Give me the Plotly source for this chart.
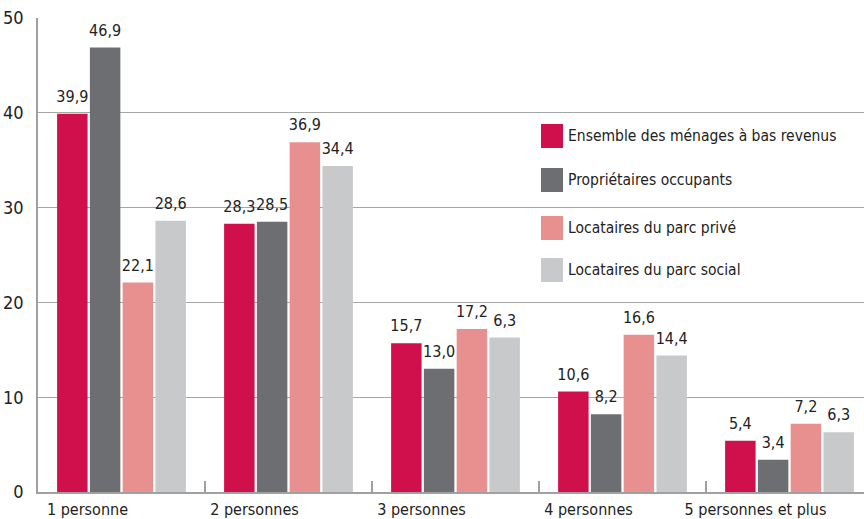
import plotly.graph_objects as go

categories = ["1 personne", "2 personnes", "3 personnes", "4 personnes", "5 personnes et plus"]
series_names = ["Ensemble des ménages à bas revenus", "Propriétaires occupants",
                "Locataires du parc privé", "Locataires du parc social"]
ensemble = [39.9, 28.3, 15.7, 10.6, 5.4]
proprietaires = [46.9, 28.5, 13.0, 8.2, 3.4]
prive = [22.1, 36.9, 17.2, 16.6, 7.2]
social = [28.6, 34.4, 16.3, 14.4, 6.3]
labels_ensemble = ["39,9", "28,3", "15,7", "10,6", "5,4"]
labels_proprietaires = ["46,9", "28,5", "13,0", "8,2", "3,4"]
labels_prive = ["22,1", "36,9", "17,2", "16,6", "7,2"]
labels_social = ["28,6", "34,4", "6,3", "14,4", "6,3"]
y_ticks = [0, 10, 20, 30, 40, 50]

colors = ["#D0104C", "#6D6E71", "#E8908F", "#C8C9CB"]
FONT = "Liberation Sans Narrow, Arial Narrow, DejaVu Sans Condensed, sans-serif"
TXT = "#222222"

series = [ensemble, proprietaires, prive, social]
labels = [labels_ensemble, labels_proprietaires, labels_prive, labels_social]

fig = go.Figure()
for i, (name, vals, lab, col) in enumerate(zip(series_names, series, labels, colors)):
    fig.add_trace(go.Bar(
        x=categories, y=vals, name=name, marker=dict(color=col, line=dict(width=0)),
        offsetgroup=str(i), alignmentgroup="a", showlegend=False,
        hoverinfo="x+y+name",
    ))
for i, (name, vals, lab) in enumerate(zip(series_names, series, labels)):
    fig.add_trace(go.Scatter(
        x=categories, y=vals, mode="markers+text", text=lab, textposition="top center",
        marker=dict(size=11, opacity=0), offsetgroup=str(i), alignmentgroup="a",
        textfont=dict(family=FONT, size=16, color=TXT), cliponaxis=False,
        showlegend=False, hoverinfo="skip",
    ))

# manual legend (plot area: x 38..864, y 18..492 px)
W, H = 864, 519
L, R, T, B = 38, 0, 18, 27
pw, ph = W - L - R, H - T - B
def px2paper(x, y):
    return (x - L) / pw, (H - B - y) / ph

leg_centers = [136, 180, 228, 270]
for name, col, cy in zip(series_names, colors, leg_centers):
    x0, y0 = px2paper(541, cy - 12)
    x1, y1 = px2paper(563, cy + 12)
    fig.add_shape(type="rect", xref="paper", yref="paper", x0=x0, x1=x1, y0=y0, y1=y1,
                  fillcolor=col, line=dict(width=0))
    tx, ty = px2paper(566, cy)
    fig.add_annotation(x=tx, y=ty, xref="paper", yref="paper", text=name, showarrow=False,
                       xanchor="left", yanchor="middle",
                       font=dict(family=FONT, size=15.5, color=TXT))

fig.update_layout(
    width=W, height=H, barmode="group", bargap=0.215, bargroupgap=0.07,
    scattermode="group", scattergap=0.215,
    margin=dict(l=L, r=R, t=T, b=B, pad=0),
    plot_bgcolor="white", paper_bgcolor="white",
    font=dict(family=FONT, size=16, color=TXT),
    showlegend=False,
    xaxis=dict(range=[-0.5, 4.446], showgrid=False, showline=True, linecolor="#a0a0a0", linewidth=1.5,
               ticks="inside", tickson="boundaries", ticklen=11, tickcolor="#a0a0a0", tickwidth=1.5,
               ticklabelshift=-34, ticklabelstandoff=2, automargin=False,
               tickfont=dict(family=FONT, size=16, color=TXT)),
    yaxis=dict(range=[0, 50], tickvals=y_ticks, ticktext=[str(v) for v in y_ticks],
               showgrid=True, gridcolor="#a6a6a6", gridwidth=1.3,
               showline=True, linecolor="#a0a0a0", linewidth=1.5, zeroline=False,
               ticks="", ticklabelstandoff=9, automargin=False,
               tickfont=dict(family=FONT, size=18, color=TXT)),
)

fig.write_html("out.html", config={"displayModeBar": False},
               post_script="document.body.style.margin='0';document.body.style.overflow='hidden';")
